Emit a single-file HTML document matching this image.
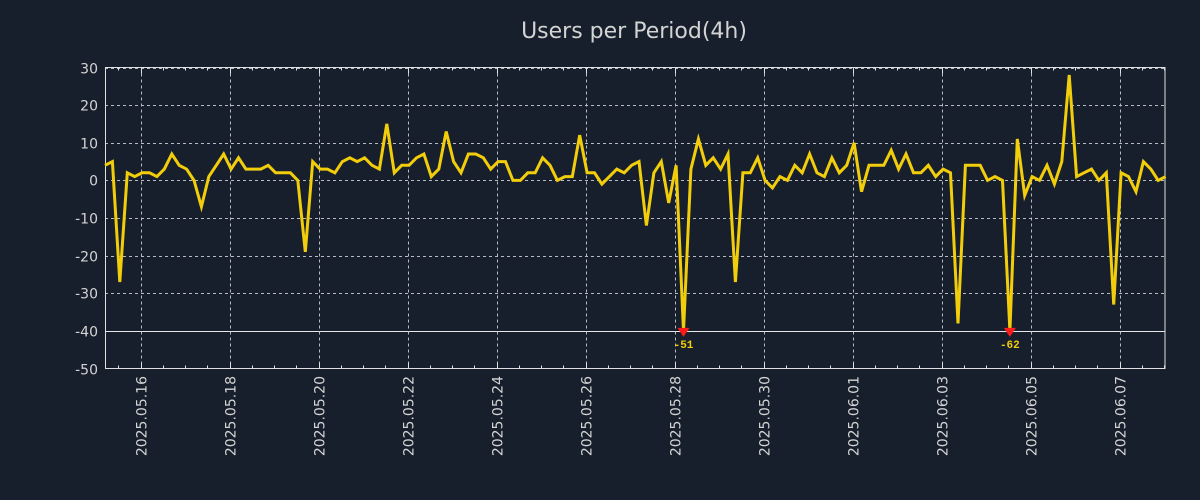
<!DOCTYPE html>
<html><head><meta charset="utf-8"><style>
html,body{margin:0;padding:0;background:#161f2b;}
svg{display:block;font-family:"DejaVu Sans","Liberation Sans",sans-serif;}
</style></head><body>
<svg id="chart" width="1200" height="500" viewBox="0 0 1200 500">
<rect width="1200" height="500" fill="#161f2b"/>
<text x="634" y="38" text-anchor="middle" font-size="22" fill="#d4d4d4">Users per Period(4h)</text>
<g id="grid"></g>
<g id="axes"></g>
<g id="series"></g>
</svg>
<script>
const values = [4,5,-27,2,1,2,2,1,3,7,4,3,0,-7,1,4,7,3,6,3,3,3,4,2,2,2,0,-19,5,3,3,2,5,6,5,6,4,3,15,2,4,4,6,7,1,3,13,5,2,7,7,6,3,5,5,0,0,2,2,6,4,0,1,1,12,2,2,-1,1,3,2,4,5,-12,2,5,-6,4,-51,3,11,4,6,3,7,-27,2,2,6,0,-2,1,0,4,2,7,2,1,6,2,4,10,-3,4,4,4,8,3,7,2,2,4,1,3,2,-38,4,4,4,0,1,0,-62,11,-4,1,0,4,-1,5,28,1,2,3,0,2,-33,2,1,-3,5,3,0,1];
const yTicks = [30,20,10,0,-10,-20,-30,-40,-50];
const dateLabels = ["2025.05.16","2025.05.18","2025.05.20","2025.05.22","2025.05.24","2025.05.26","2025.05.28","2025.05.30","2025.06.01","2025.06.03","2025.06.05","2025.06.07"];
const firstDateIndex = 4.8;
const periodsPerLabel = 12;
const yMin = -50, yMax = 30, clipFloor = -40;

const NS = "http://www.w3.org/2000/svg";
const L = 105, R = 1165, T = 67.5, B = 368.5;
const step = 7.417;
function xs(i){ return L + i*step; }
function ys(v){ return B - (v - yMin)/(yMax - yMin)*(B - T); }
function mk(tag, attrs, parent){ const e=document.createElementNS(NS,tag); for(const k in attrs) e.setAttribute(k,attrs[k]); parent.appendChild(e); return e; }
const grid=document.getElementById('grid'), axes=document.getElementById('axes'), series=document.getElementById('series');

yTicks.forEach(v=>{
  const y=Math.round(ys(v))+0.5;
  if(v!==clipFloor && v!==yMin && v!==yMax){
    const g=mk('line',{x1:L,x2:R,y1:y,y2:y,stroke:'#b8bcc2','stroke-width':1,'stroke-dasharray':'3,3'},grid);
    
    
  }
  if(v===yMax){
    const g=mk('line',{x1:L,x2:R,y1:y,y2:y,stroke:'#b8bcc2','stroke-width':1,'stroke-dasharray':'3,3'},grid);
    
    
  }
  const t=mk('text',{x:98,y:y+5,'text-anchor':'end','font-size':14,fill:'#d4d4d4'},axes);
  t.textContent=v;
  
  
});
// floor line
const fl=mk('line',{x1:L,x2:R,y1:Math.round(ys(clipFloor))+0.5,y2:Math.round(ys(clipFloor))+0.5,stroke:'#e8e8e8','stroke-width':1},grid);



dateLabels.forEach((d,k)=>{
  const x=Math.round(xs(firstDateIndex+k*periodsPerLabel))+0.5;
  const g=mk('line',{x1:x,x2:x,y1:T,y2:B,stroke:'#b8bcc2','stroke-width':1,'stroke-dasharray':'3,3'},grid);
  
  
  const t=mk('text',{x:0,y:0,'text-anchor':'end','font-size':14,fill:'#d4d4d4',transform:`translate(${x+5},376) rotate(-90)`},axes);
  t.textContent=d;
  
  
});
// minor ticks every 12h
for(let i=firstDateIndex-3; xs(i)<R; i+=3){
  if(xs(i)<L) continue;
  const x=Math.round(xs(i))+0.5;
  const big=Math.abs(((i-firstDateIndex)/periodsPerLabel)%1)<1e-6;
  const len=big?6:3;
  const a=mk('line',{x1:x,x2:x,y1:B,y2:B-len,stroke:'#e0e0e0','stroke-width':1},axes);
  
  
  const b=mk('line',{x1:x,x2:x,y1:T,y2:T+len,stroke:'#e0e0e0','stroke-width':1},axes);
  
  
}
const frame=mk('rect',{x:L+0.5,y:T,width:R-L-0.5,height:B-T,fill:'none',stroke:'#e0e0e0','stroke-width':1},axes);



const pts=values.map((v,i)=>xs(i).toFixed(1)+','+ys(Math.max(v,clipFloor)).toFixed(1)).join(' ');
const line=mk('polyline',{points:pts,fill:'none',stroke:'#f2cd0c','stroke-width':3,'stroke-linejoin':'miter'},series);



values.forEach((v,i)=>{
  if(v<clipFloor){
    const x=xs(i), y=ys(clipFloor);
    const m=mk('polygon',{points:`${x-6},${y-3} ${x+6},${y-3} ${x},${y+6}`,fill:'#ff1a1a'},series);
    
    
    const t=mk('text',{x:x,y:y+17,'text-anchor':'middle','font-size':11,'font-weight':'bold','font-family':'Liberation Mono, monospace',fill:'#f2cd0c'},series);
    t.textContent=v;
    
    
  }
});
</script>
</body></html>
